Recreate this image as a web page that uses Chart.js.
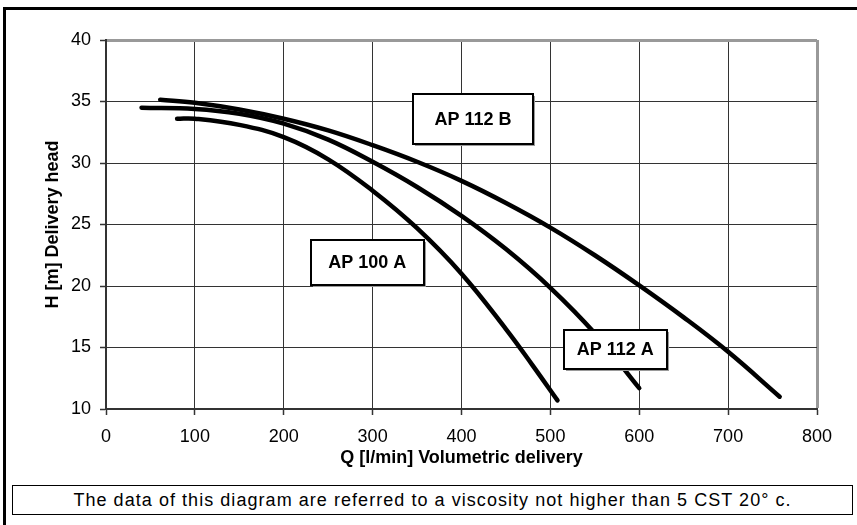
<!DOCTYPE html>
<html>
<head>
<meta charset="utf-8">
<title>Delivery head curves</title>
<script src="https://cdn.jsdelivr.net/npm/chart.js@4.4.1/dist/chart.umd.min.js"></script>
<style>
  html, body { margin: 0; padding: 0; background: #fff; }
  #page { position: relative; width: 857px; height: 525px; overflow: hidden; font-family: "Liberation Sans", Arial, sans-serif; }
  #frame { position: absolute; left: 3px; top: 7px; width: 900px; height: 600px; border-left: 3px solid #000; border-top: 3px solid #000; }
  #chart { position: absolute; left: 0; top: 0; }
  #note { position: absolute; left: 12px; top: 485px; width: 839px; height: 28px; border: 1.5px solid #000; background: #fff;
          font-size: 18px; line-height: 29px; letter-spacing: 1.05px; text-align: center; color: #000; }
</style>
</head>
<body>
<div id="page">
  <div id="frame"></div>
  <canvas id="chart" width="857" height="525"></canvas>
  <div id="note">The data of this diagram are referred to a viscosity not higher than 5 CST 20° c.</div>
</div>
<script>
// axis ticks
const qTicks = [0, 100, 200, 300, 400, 500, 600, 700, 800];
const hTicks = [10, 15, 20, 25, 30, 35, 40];

// pump curves, Q [l/min] -> H [m]
const ap112bQ = [61, 100, 150, 200, 250, 300, 350, 400, 450, 500, 550, 600, 650, 700, 758];
const ap112bH = [35.15, 34.9, 34.35, 33.6, 32.65, 31.45, 30.1, 28.55, 26.75, 24.75, 22.5, 20.05, 17.45, 14.65, 11.0];

const ap112aQ = [40, 100, 150, 200, 250, 300, 350, 400, 450, 500, 550, 600];
const ap112aH = [34.5, 34.4, 34.0, 33.2, 31.9, 30.1, 28.05, 25.7, 23.0, 19.85, 16.15, 11.7];

const ap100aQ = [80, 100, 150, 200, 250, 300, 350, 400, 450, 480, 508];
const ap100aH = [33.6, 33.6, 33.1, 32.1, 30.3, 27.75, 24.7, 21.0, 16.5, 13.55, 10.7];

const seriesNames = ['AP 112 B', 'AP 112 A', 'AP 100 A'];

// where the name boxes sit (in data units) and how big they are
const boxLabels = [
    { text: seriesNames[0], q: 413, h: 33.6, w: 120, ht: 50 },
    { text: seriesNames[1], q: 573, h: 14.85, w: 103, ht: 39 },
    { text: seriesNames[2], q: 294, h: 21.9, w: 113, ht: 45 }
];

const FONT = '"Liberation Sans", Arial, sans-serif';

function toPoints(qs, hs) {
    return qs.map((q, i) => ({ x: q, y: hs[i] }));
}

function curve(name, qs, hs) {
    return {
        label: name,
        data: toPoints(qs, hs),
        borderColor: '#000',
        borderWidth: 4.5,
        borderCapStyle: 'round',
        borderJoinStyle: 'round',
        pointRadius: 0,
        fill: false,
        tension: 0.4
    };
}

const boxLabelPlugin = {
    id: 'boxLabels',
    afterDatasetsDraw(chart) {
        const ctx = chart.ctx;
        const x = chart.scales.x;
        const y = chart.scales.y;
        ctx.save();
        boxLabels.forEach(b => {
            const cx = x.getPixelForValue(b.q);
            const cy = y.getPixelForValue(b.h);
            const left = Math.round(cx - b.w / 2);
            const top = Math.round(cy - b.ht / 2);
            ctx.fillStyle = '#9a9a9a';
            ctx.fillRect(left + 2, top + 2, b.w, b.ht);
            ctx.fillStyle = '#fff';
            ctx.fillRect(left, top, b.w, b.ht);
            ctx.lineWidth = 2;
            ctx.strokeStyle = '#000';
            ctx.strokeRect(left, top, b.w, b.ht);
            ctx.fillStyle = '#000';
            ctx.font = 'bold 18px ' + FONT;
            ctx.textAlign = 'center';
            ctx.textBaseline = 'middle';
            ctx.fillText(b.text, cx, top + b.ht / 2 + 1);
        });
        ctx.restore();
    }
};

new Chart(document.getElementById('chart'), {
    type: 'line',
    data: {
        datasets: [
            curve(seriesNames[0], ap112bQ, ap112bH),
            curve(seriesNames[1], ap112aQ, ap112aH),
            curve(seriesNames[2], ap100aQ, ap100aH)
        ]
    },
    options: {
        responsive: false,
        animation: false,
        layout: { padding: { left: 0, top: 40, right: 40, bottom: 0 } },
        plugins: {
            legend: { display: false },
            tooltip: { enabled: false }
        },
        scales: {
            x: {
                type: 'linear',
                min: 0,
                max: 800,
                afterBuildTicks: s => { s.ticks = qTicks.map(v => ({ value: v })); },
                afterFit: s => { s.height = 116; },
                border: { color: '#333', width: 2 },
                grid: {
                    color: c => (c.tick && c.tick.value === 800 ? '#999' : '#333'),
                    lineWidth: c => (c.tick && c.tick.value === 800 ? 3 : 1),
                    tickColor: '#333',
                    tickWidth: 1.5,
                    tickLength: 6
                },
                ticks: {
                    color: '#000',
                    padding: 11,
                    maxRotation: 0,
                    font: { family: FONT, size: 18 }
                },
                title: {
                    display: true,
                    text: 'Q [l/min] Volumetric delivery',
                    color: '#000',
                    font: { family: FONT, size: 18, weight: 'bold' },
                    padding: { top: 0, bottom: 56 }
                }
            },
            y: {
                type: 'linear',
                min: 10,
                max: 40,
                afterBuildTicks: s => { s.ticks = hTicks.map(v => ({ value: v })); },
                afterFit: s => { s.width = 106; },
                border: { color: '#333', width: 2 },
                grid: {
                    color: c => (c.tick && c.tick.value === 40 ? '#999' : '#333'),
                    lineWidth: c => (c.tick && c.tick.value === 40 ? 3 : 1),
                    tickColor: '#333',
                    tickWidth: 1.5,
                    tickLength: 6
                },
                ticks: {
                    color: '#000',
                    padding: 9,
                    font: { family: FONT, size: 18 }
                },
                title: {
                    display: true,
                    text: 'H [m] Delivery head',
                    color: '#000',
                    font: { family: FONT, size: 18, weight: 'bold' },
                    padding: { top: 42, bottom: 0 }
                }
            }
        }
    },
    plugins: [boxLabelPlugin]
});
</script>
</body>
</html>
